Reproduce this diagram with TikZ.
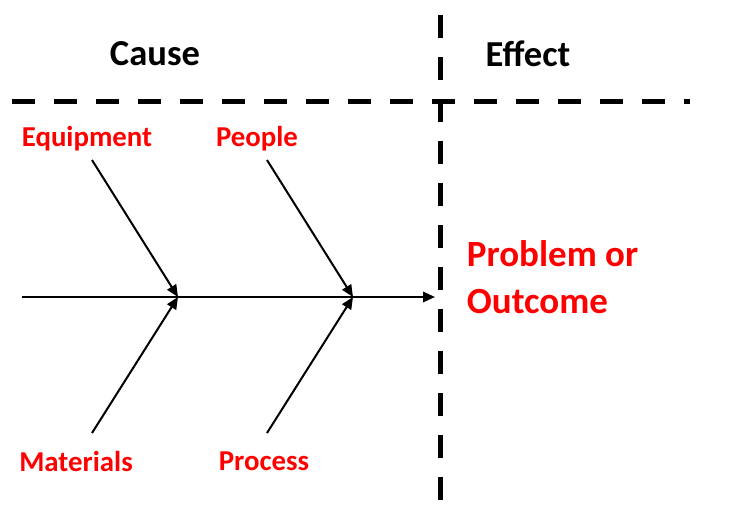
\documentclass[tikz,border=0pt]{standalone}
\usepackage{fontspec}
\setmainfont{Carlito}
\usetikzlibrary{arrows.meta}

\definecolor{causeRed}{HTML}{FF0000}

\tikzset{
  divider/.style={line width=0.125cm,dash pattern=on 0.575cm off 0.475cm},
  bone/.style={line width=0.05cm,-{Triangle[length=0.3cm,width=0.26cm]}},
  heading/.style={font=\fontsize{26}{30}\selectfont\bfseries},
  causelabel/.style={text=causeRed,font=\fontsize{20.5}{24}\selectfont\bfseries},
}

\begin{document}
\begin{tikzpicture}[x=0.025cm,y=-0.025cm]
  \useasboundingbox (0,0) rectangle (731,522);

  % cause / effect dividers
  \draw[divider] (12,101) -- (690,101);
  \draw[divider] (440,15) -- (440,502);
  \node[heading] (cause) at (155,54) {Cause};
  \node[heading] (effect) at (528,54) {Effect};

  % spine
  \coordinate (spineStart) at (22,297);
  \coordinate (jointA) at (178,297);
  \coordinate (jointB) at (353,297);
  \coordinate (spineEnd) at (435,297);
  \draw[bone] (spineStart) -- (spineEnd);

  % bones
  \coordinate (equipTail) at (92,160);
  \coordinate (peopleTail) at (267,160);
  \coordinate (matTail) at (92,433);
  \coordinate (procTail) at (267,433);
  \draw[bone] (equipTail) -- (jointA);
  \draw[bone] (matTail) -- (jointA);
  \draw[bone] (peopleTail) -- (jointB);
  \draw[bone] (procTail) -- (jointB);

  \node[causelabel] (equipment) at (87,139) {Equipment};
  \node[causelabel] (people) at (257,139) {People};
  \node[causelabel] (materials) at (76,461) {Materials};
  \node[causelabel] (process) at (264,461) {Process};

  \node[anchor=west,align=left,text=causeRed,
    font=\fontsize{26.3}{33}\selectfont\bfseries] (outcome) at (462,277)
    {Problem or\\Outcome};
\end{tikzpicture}
\end{document}
